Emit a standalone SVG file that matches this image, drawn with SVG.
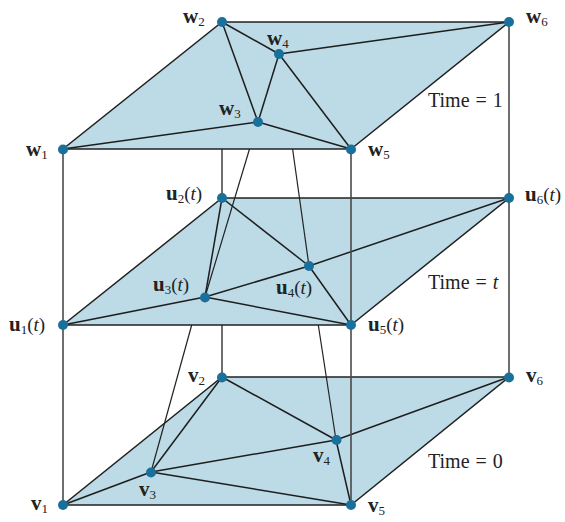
<svg xmlns="http://www.w3.org/2000/svg" width="565" height="522" viewBox="0 0 565 522">
<style>
.plane{fill:#bcdbe7;stroke:#222;stroke-width:1.5}
.e{stroke:#1e1e1e;stroke-width:1.5;fill:none}
.tr{stroke:#222;stroke-width:1.2;fill:none}
.vt{stroke:#4a4a4a;stroke-width:1.6;fill:none}
.n{fill:#19709a}
.lb{font-family:"Liberation Serif",serif;font-size:19px;fill:#222}
.b{font-weight:bold;font-size:21px}
.s{font-size:13px}
.i{font-style:italic}
.tm{font-family:"Liberation Serif",serif;font-size:20px;fill:#222;word-spacing:1px}
</style>
<g id="connectors">
<line class="vt" x1="63" y1="149" x2="63" y2="325"/>
<line class="vt" x1="63" y1="325" x2="63" y2="505"/>
<line class="vt" x1="509" y1="22" x2="509" y2="198"/>
<line class="vt" x1="509" y1="198" x2="509" y2="377"/>
<line class="vt" x1="222" y1="149" x2="222" y2="198"/>
<line class="vt" x1="222" y1="325" x2="222" y2="377"/>
</g>
<g id="plane-bottom">
<polygon class="plane" points="63,505 351,505 509,377 222,377"/>
<g class="e">
<line x1="63" y1="505" x2="151" y2="472"/>
<line x1="222" y1="377" x2="151" y2="472"/>
<line x1="151" y1="472" x2="336" y2="440"/>
<line x1="151" y1="472" x2="351" y2="505"/>
<line x1="222" y1="377" x2="336" y2="440"/>
<line x1="336" y1="440" x2="351" y2="505"/>
<line x1="336" y1="440" x2="509" y2="377"/>
</g>
</g>
<g id="traj-bottom">
<line class="tr" x1="191.7" y1="325" x2="151" y2="472"/>
<line class="tr" x1="318.3" y1="325" x2="336" y2="440"/>
<line class="vt" x1="351" y1="325" x2="351" y2="505"/>
</g>
<g id="plane-middle">
<polygon class="plane" points="63,325 351,325 509,198 222,198"/>
<g class="e">
<line x1="63" y1="325" x2="205" y2="297"/>
<line x1="222" y1="198" x2="205" y2="297"/>
<line x1="205" y1="297" x2="309" y2="266"/>
<line x1="205" y1="297" x2="351" y2="325"/>
<line x1="222" y1="198" x2="309" y2="266"/>
<line x1="309" y1="266" x2="351" y2="325"/>
<line x1="309" y1="266" x2="509" y2="198"/>
</g>
</g>
<g id="traj-middle">
<line class="tr" x1="249.5" y1="149" x2="205" y2="297"/>
<line class="tr" x1="292.6" y1="149" x2="309" y2="266"/>
<line class="vt" x1="351" y1="149" x2="351" y2="325"/>
</g>
<g id="plane-top">
<polygon class="plane" points="63,149 351,149 509,22 222,22"/>
<g class="e">
<line x1="63" y1="149" x2="258" y2="122"/>
<line x1="222" y1="22" x2="258" y2="122"/>
<line x1="222" y1="22" x2="279" y2="54"/>
<line x1="279" y1="54" x2="258" y2="122"/>
<line x1="258" y1="122" x2="351" y2="149"/>
<line x1="279" y1="54" x2="351" y2="149"/>
<line x1="279" y1="54" x2="509" y2="22"/>
</g>
</g>
<g id="nodes-w">
<g id="w1"><circle class="n" cx="63" cy="149.5" r="5"/><text class="lb" x="26" y="156"><tspan class="b">w</tspan><tspan class="s" dy="3">1</tspan></text></g>
<g id="w2"><circle class="n" cx="222" cy="22" r="5"/><text class="lb" x="183" y="23"><tspan class="b">w</tspan><tspan class="s" dy="3">2</tspan></text></g>
<g id="w3"><circle class="n" cx="258" cy="122" r="5"/><text class="lb" x="219" y="115"><tspan class="b">w</tspan><tspan class="s" dy="3">3</tspan></text></g>
<g id="w4"><circle class="n" cx="279" cy="54" r="5"/><text class="lb" x="267" y="45"><tspan class="b">w</tspan><tspan class="s" dy="3">4</tspan></text></g>
<g id="w5"><circle class="n" cx="351" cy="149.5" r="5"/><text class="lb" x="368" y="156"><tspan class="b">w</tspan><tspan class="s" dy="3">5</tspan></text></g>
<g id="w6"><circle class="n" cx="509" cy="22" r="5"/><text class="lb" x="526" y="23"><tspan class="b">w</tspan><tspan class="s" dy="3">6</tspan></text></g>
</g>
<g id="nodes-u">
<g id="u1"><circle class="n" cx="63" cy="325" r="5"/><text class="lb" x="9" y="331"><tspan class="b">u</tspan><tspan class="s" dy="3">1</tspan><tspan dy="-3">(</tspan><tspan class="i">t</tspan><tspan>)</tspan></text></g>
<g id="u2"><circle class="n" cx="222" cy="198" r="5"/><text class="lb" x="166" y="200"><tspan class="b">u</tspan><tspan class="s" dy="3">2</tspan><tspan dy="-3">(</tspan><tspan class="i">t</tspan><tspan>)</tspan></text></g>
<g id="u3"><circle class="n" cx="205" cy="297.5" r="5"/><text class="lb" x="153" y="291"><tspan class="b">u</tspan><tspan class="s" dy="3">3</tspan><tspan dy="-3">(</tspan><tspan class="i">t</tspan><tspan>)</tspan></text></g>
<g id="u4"><circle class="n" cx="309" cy="266" r="5"/><text class="lb" x="276" y="294"><tspan class="b">u</tspan><tspan class="s" dy="3">4</tspan><tspan dy="-3">(</tspan><tspan class="i">t</tspan><tspan>)</tspan></text></g>
<g id="u5"><circle class="n" cx="351" cy="325" r="5"/><text class="lb" x="368" y="331"><tspan class="b">u</tspan><tspan class="s" dy="3">5</tspan><tspan dy="-3">(</tspan><tspan class="i">t</tspan><tspan>)</tspan></text></g>
<g id="u6"><circle class="n" cx="509" cy="198" r="5"/><text class="lb" x="525" y="201"><tspan class="b">u</tspan><tspan class="s" dy="3">6</tspan><tspan dy="-3">(</tspan><tspan class="i">t</tspan><tspan>)</tspan></text></g>
</g>
<g id="nodes-v">
<g id="v1"><circle class="n" cx="63" cy="505" r="5"/><text class="lb" x="31" y="510"><tspan class="b">v</tspan><tspan class="s" dy="3">1</tspan></text></g>
<g id="v2"><circle class="n" cx="222" cy="377.5" r="5"/><text class="lb" x="188" y="382"><tspan class="b">v</tspan><tspan class="s" dy="3">2</tspan></text></g>
<g id="v3"><circle class="n" cx="151" cy="472.5" r="5"/><text class="lb" x="139" y="496"><tspan class="b">v</tspan><tspan class="s" dy="3">3</tspan></text></g>
<g id="v4"><circle class="n" cx="336.5" cy="440" r="5"/><text class="lb" x="313" y="462"><tspan class="b">v</tspan><tspan class="s" dy="3">4</tspan></text></g>
<g id="v5"><circle class="n" cx="351" cy="505" r="5"/><text class="lb" x="368" y="512"><tspan class="b">v</tspan><tspan class="s" dy="3">5</tspan></text></g>
<g id="v6"><circle class="n" cx="509" cy="377.5" r="5"/><text class="lb" x="526" y="382"><tspan class="b">v</tspan><tspan class="s" dy="3">6</tspan></text></g>
</g>
<g id="time-labels">
<text class="tm" x="428" y="107">Time = 1</text>
<text class="tm" x="428" y="289">Time = <tspan class="i">t</tspan></text>
<text class="tm" x="428" y="468">Time = 0</text>
</g>
</svg>
